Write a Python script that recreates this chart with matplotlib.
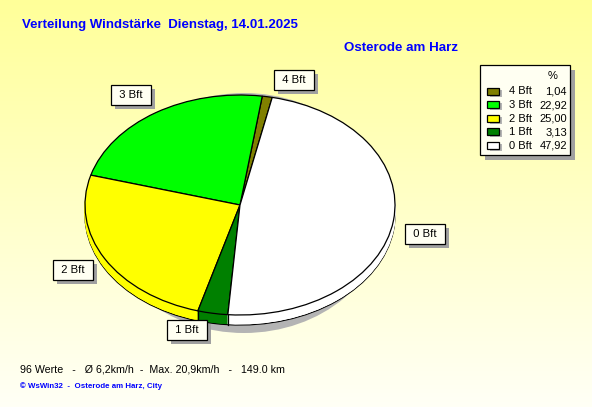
import numpy as np
import matplotlib
matplotlib.use("Agg")
import matplotlib.pyplot as plt
from matplotlib.patches import Ellipse, Rectangle
import matplotlib.transforms as mtransforms

plt.rcParams['font.family'] = ['Liberation Sans', 'DejaVu Sans']

# ---- data ----
categories = ["4 Bft", "3 Bft", "2 Bft", "1 Bft", "0 Bft"]
percent = [1.04, 22.92, 25.00, 3.13, 47.92]
colors = ["#808000", "#00ff00", "#ffff00", "#008000", "#ffffff"]
title = "Verteilung Windstärke  Dienstag, 14.01.2025"
station = "Osterode am Harz"
footer = "96 Werte   -   Ø 6,2km/h  -  Max. 20,9km/h   -   149.0 km"
credit = "© WsWin32  -  Osterode am Harz, City"
# label nudges in pixels (right, down) relative to the radial position
label_nudge = [(21, 6), (-7, 2), (-3, 0), (-20, -6), (-1, 10)]

W, H = 592, 407
fig = plt.figure(figsize=(W / 100, H / 100), dpi=100)

# background gradient
bg = fig.add_axes([0, 0, 1, 1], zorder=0)
grad = np.linspace(0, 1, 256)[:, None]
top = np.array([255, 255, 153]) / 255
bot = np.array([255, 255, 246]) / 255
img = top[None, None, :] * (1 - grad[:, :, None]) + bot[None, None, :] * grad[:, :, None]
bg.imshow(img, aspect='auto', extent=[0, 1, 0, 1])
bg.set_axis_off()

# pie axes (unit circle -> ellipse box)
cx, cy, rx, ry = 240, 205, 155, 110
ax = fig.add_axes([(cx - rx) / W, 1 - (cy + ry) / H, 2 * rx / W, 2 * ry / H], zorder=1)
ax.patch.set_visible(False)
start = 78
depth = 10 / ry

# shadow
ax.add_patch(Ellipse((4 / rx, -8 / ry), 2 * 142 / rx, 2 * 120 / ry,
                     facecolor="#b4b4b4", edgecolor="none", zorder=0, clip_on=False))

# bottom (side) outline
w, _ = ax.pie(percent, colors=colors, startangle=start, counterclock=True,
              center=(0, -depth), radius=1,
              wedgeprops=dict(edgecolor="black", linewidth=0.9))
for p in w:
    p.set_zorder(1); p.set_clip_on(False)
# side fill
for k in np.linspace(depth, 0, 12)[1:-1]:
    w, _ = ax.pie(percent, colors=colors, startangle=start, counterclock=True,
                  center=(0, -k), radius=1,
                  wedgeprops=dict(linewidth=0.6))
    for p, c in zip(w, colors):
        p.set_edgecolor(c); p.set_zorder(2); p.set_clip_on(False)

# vertical edges at slice boundaries on the front side
bounds = start + np.cumsum([0] + percent) / 100 * 360
for a in bounds:
    a_r = np.deg2rad(a)
    if np.sin(a_r) < 0:
        ax.plot([np.cos(a_r)] * 2, [np.sin(a_r), np.sin(a_r) - depth],
                color="black", lw=0.9, zorder=3, clip_on=False)

# top face with labels
w, texts = ax.pie(percent, colors=colors, startangle=start, counterclock=True,
                  labels=categories, labeldistance=1.21, radius=1,
                  wedgeprops=dict(edgecolor="black", linewidth=0.9),
                  textprops=dict(fontsize=8.2, color="black"))
for p in w:
    p.set_zorder(4); p.set_clip_on(False)
for t, (nx, ny) in zip(texts, label_nudge):
    x, y = t.get_position()
    t.set_position((x + nx / rx, y - ny / ry))
    t.set_ha('center'); t.set_va('center'); t.set_zorder(7)
    t.set_text(" " + t.get_text() + " ")
    t.set_bbox(dict(boxstyle="square,pad=0.45", facecolor="#fffff2",
                    edgecolor="black", linewidth=0.9))
ax.set_aspect('auto')
ax.set_xlim(-1, 1)
ax.set_ylim(-1, 1)
ax.set_axis_off()

# label box shadows (computed from the drawn label boxes)
fig.canvas.draw()
for t in texts:
    bb = t.get_bbox_patch().get_window_extent()
    ax.add_patch(Rectangle((bb.x0 + 4, bb.y0 - 4), bb.width, bb.height,
                           transform=mtransforms.IdentityTransform(),
                           facecolor="#a0a0a0", edgecolor="none",
                           zorder=6, clip_on=False))

# overlay axes in pixel coordinates for texts and legend
ov = fig.add_axes([0, 0, 1, 1], zorder=3)
ov.set_xlim(0, W)
ov.set_ylim(H, 0)
ov.set_axis_off()
ov.patch.set_visible(False)

ov.text(22, 25, title, color="#0000ff", fontsize=9.5, fontweight='bold', va='center', ha='left')
ov.text(458, 48, station, color="#0000ff", fontsize=9.6, fontweight='bold', va='center', ha='right')
ov.text(20, 369, footer, color="black", fontsize=7.7, va='center', ha='left')
ov.text(20, 386, credit, color="#0000ff", fontsize=5.7, fontweight='bold', va='center', ha='left')

# legend
ov.add_patch(Rectangle((485, 70), 90, 90, facecolor="#a0a0a0", edgecolor="none"))
ov.add_patch(Rectangle((480, 65), 90, 90, facecolor="#fffff2", edgecolor="black", lw=0.9))
ov.text(553, 76, "%", fontsize=8, ha='center', va='center')
y0, dy = 91.5, 13.6
for i, (cat, val, c) in enumerate(zip(categories, percent, colors)):
    y = y0 + i * dy
    ov.add_patch(Rectangle((490, y - 2), 12, 7, facecolor="#b4b4b4", edgecolor="none"))
    ov.add_patch(Rectangle((487, y - 4), 12, 7, facecolor=c, edgecolor="black", lw=0.9))
    ov.text(509, y, cat, fontsize=8, ha='left', va='center')
    ov.text(567, y, f"{val:.2f}".replace('.', ','), fontsize=8, ha='right', va='center')

fig.savefig("out.png", dpi=100)
